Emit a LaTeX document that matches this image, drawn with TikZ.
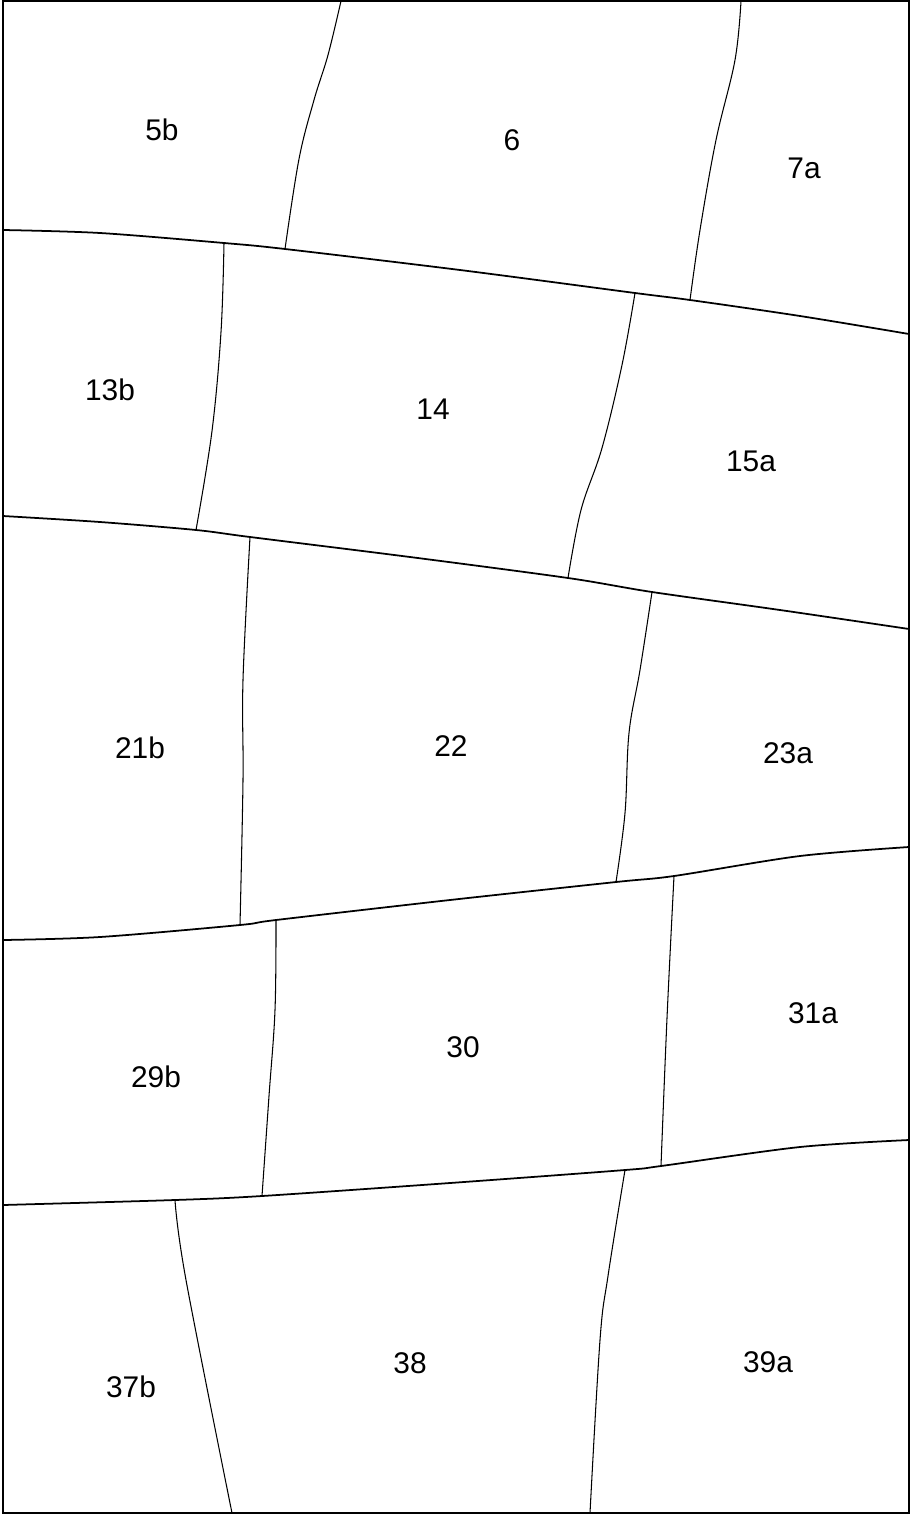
\documentclass[tikz,border=0pt]{standalone}
\usepackage{fontspec}
\setmainfont{Liberation Sans}
\usepackage{tikz}
\usetikzlibrary{positioning}

\begin{document}
\begin{tikzpicture}[
  x=0.01cm, y=-0.01cm,
  every node/.style={font=\fontsize{8.5}{10}\selectfont},
  rowline/.style={line width=0.5pt, line join=round},
  colline/.style={line width=0.3pt, line join=round},
  frameline/.style={line width=0.55pt},
  plotlabel/.style={inner sep=0pt, anchor=center},
]
  \useasboundingbox (0,0) rectangle (911,1515);
  \draw[frameline] (3,1) rectangle (909,1513);

  % junctions on the row boundaries
  \coordinate (j1a) at (224,243);  \coordinate (j1b) at (285,249);
  \coordinate (j1c) at (635,293);  \coordinate (j1d) at (690,300);
  \coordinate (j2a) at (196,530);  \coordinate (j2b) at (250,537);
  \coordinate (j2c) at (568,578);  \coordinate (j2d) at (652,592);
  \coordinate (j3a) at (240,925);  \coordinate (j3b) at (276,920);
  \coordinate (j3c) at (616,882);  \coordinate (j3d) at (674,876);
  \coordinate (j4a) at (175,1200); \coordinate (j4b) at (262,1196);
  \coordinate (j4c) at (625,1170); \coordinate (j4d) at (661,1166);

  % row boundaries
  \draw[rowline] plot[smooth, tension=0.5] coordinates
    {(3,230) (100,233) (j1a) (j1b) (460,270) (j1c) (j1d) (800,316) (909,334)};
  \draw[rowline] plot[smooth, tension=0.5] coordinates
    {(3,516) (100,522) (j2a) (j2b) (410,557) (j2c) (j2d) (780,610) (909,629)};
  \draw[rowline] plot[smooth, tension=0.5] coordinates
    {(3,940) (100,937) (j3a) (j3b) (450,900) (j3c) (j3d) (800,856) (909,847)};
  \draw[rowline] plot[smooth, tension=0.5] coordinates
    {(3,1205) (j4a) (j4b) (450,1183) (j4c) (j4d) (800,1147) (909,1140)};

  % column boundaries, top row
  \draw[colline] plot[smooth, tension=0.6] coordinates
    {(341,1) (328,55) (314,100) (299,159) (j1b)};
  \draw[colline] plot[smooth, tension=0.6] coordinates
    {(741,1) (735,60) (716,140) (700,230) (j1d)};
  % second row
  \draw[colline] plot[smooth, tension=0.6] coordinates
    {(j1a) (221,332) (212,431) (j2a)};
  \draw[colline] plot[smooth, tension=0.6] coordinates
    {(j1c) (622,365) (602,448) (581,510) (j2c)};
  % third row
  \draw[colline] plot[smooth, tension=0.6] coordinates
    {(j2b) (243,680) (243,780) (j3a)};
  \draw[colline] plot[smooth, tension=0.6] coordinates
    {(j2d) (640,670) (629,733) (625,813) (j3c)};
  % fourth row
  \draw[colline] plot[smooth, tension=0.6] coordinates
    {(j3b) (275,1010) (269,1096) (j4b)};
  \draw[colline] plot[smooth, tension=0.6] coordinates
    {(j3d) (667,1018) (j4d)};
  % bottom row
  \draw[colline] plot[smooth, tension=0.6] coordinates
    {(j4a) (186,1280) (232,1513)};
  \draw[colline] plot[smooth, tension=0.6] coordinates
    {(j4c) (608,1276) (600,1340) (590,1513)};

  % cell labels
  \node[plotlabel] (c5b)  at (162,130)  {5b};
  \node[plotlabel] (c6)   at (512,140)  {6};
  \node[plotlabel] (c7a)  at (804,168)  {7a};
  \node[plotlabel] (c13b) at (110,390)  {13b};
  \node[plotlabel] (c14)  at (433,409)  {14};
  \node[plotlabel] (c15a) at (751,461)  {15a};
  \node[plotlabel] (c21b) at (140,748)  {21b};
  \node[plotlabel] (c22)  at (451,746)  {22};
  \node[plotlabel] (c23a) at (788,753)  {23a};
  \node[plotlabel] (c29b) at (156,1077) {29b};
  \node[plotlabel] (c30)  at (463,1047) {30};
  \node[plotlabel] (c31a) at (813,1013) {31a};
  \node[plotlabel] (c37b) at (131,1387) {37b};
  \node[plotlabel] (c38)  at (410,1363) {38};
  \node[plotlabel] (c39a) at (768,1362) {39a};
\end{tikzpicture}
\end{document}
